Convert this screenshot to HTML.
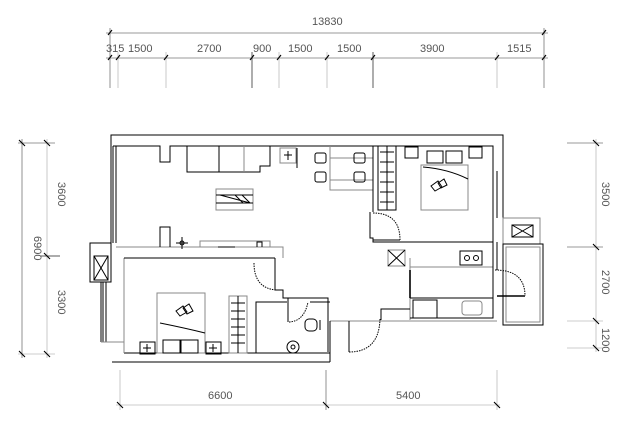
<!DOCTYPE html>
<html><head><style>
html,body{margin:0;padding:0;background:#fff;}
svg{display:block;}
text{font-family:"Liberation Sans",sans-serif;font-size:11px;fill:#555;}
</style></head><body>
<svg width="640" height="435" viewBox="0 0 640 435" xmlns="http://www.w3.org/2000/svg">
<g stroke="#777" stroke-width="0.8" fill="none">
<line x1="106" y1="33" x2="548" y2="33"/>
<line x1="106" y1="58" x2="548" y2="58"/>
<line x1="110" y1="28" x2="110" y2="88"/>
<line x1="544" y1="28" x2="544" y2="88"/>
<line x1="118" y1="52" x2="118" y2="88" stroke="#bbb"/>
<line x1="166" y1="52" x2="166" y2="88" stroke="#bbb"/>
<line x1="252" y1="52" x2="252" y2="88" stroke="#333"/>
<line x1="279" y1="52" x2="279" y2="88" stroke="#bbb"/>
<line x1="327" y1="52" x2="327" y2="88" stroke="#bbb"/>
<line x1="373" y1="52" x2="373" y2="88" stroke="#333"/>
<line x1="497" y1="52" x2="497" y2="88" stroke="#bbb"/>
<line x1="22" y1="139" x2="22" y2="358"/>
<line x1="47" y1="139" x2="47" y2="358" stroke="#bbb"/>
<line x1="18" y1="143" x2="55" y2="143"/>
<line x1="18" y1="354" x2="55" y2="354" stroke="#bbb"/>
<line x1="40" y1="256" x2="60" y2="256" stroke="#222"/>
<line x1="596" y1="139" x2="596" y2="352" stroke="#bbb"/>
<line x1="567" y1="143" x2="603" y2="143"/>
<line x1="567" y1="247" x2="603" y2="247"/>
<line x1="567" y1="321" x2="603" y2="321" stroke="#bbb"/>
<line x1="567" y1="348" x2="603" y2="348" stroke="#bbb"/>
<line x1="116" y1="405" x2="500" y2="405" stroke="#bbb"/>
<line x1="120" y1="370" x2="120" y2="410" stroke="#bbb"/>
<line x1="326" y1="370" x2="326" y2="410"/>
<line x1="497" y1="370" x2="497" y2="410" stroke="#bbb"/>
</g>
<g stroke="#000" stroke-width="1.1">
<path d="M108 35l4-5M108 60l4-5M116 60l4-5M164 60l4-5M250 60l4-5M277 60l4-5M325 60l4-5M371 60l4-5M495 60l4-5M542 60l4-5M542 35l4-5"/>
<path d="M19 140l6 6M44 140l6 6M19 351l6 6M44 351l6 6M44 253l6 6"/>
<path d="M593 140l6 6M593 244l6 6M593 318l6 6M593 345l6 6"/>
<path d="M117 402l6 6M323 402l6 6M494 402l6 6"/>
</g>
<text x="312" y="25">13830</text>
<text x="106" y="52">315</text>
<text x="128" y="52">1500</text>
<text x="197" y="52">2700</text>
<text x="253" y="52">900</text>
<text x="288" y="52">1500</text>
<text x="337" y="52">1500</text>
<text x="420" y="52">3900</text>
<text x="507" y="52">1515</text>
<text transform="translate(34,236) rotate(90)">6900</text>
<text transform="translate(58,182) rotate(90)">3600</text>
<text transform="translate(58,290) rotate(90)">3300</text>
<text transform="translate(602,182) rotate(90)">3500</text>
<text transform="translate(602,270) rotate(90)">2700</text>
<text transform="translate(602,328) rotate(90)">1200</text>
<text x="208" y="399">6600</text>
<text x="396" y="399">5400</text>

<g stroke="#000" stroke-width="1" fill="none">
<path d="M111 243V135H503V218"/>
<path d="M113 146H160V162H170V146H493V171"/>
<line x1="113" y1="146" x2="113" y2="243"/><line x1="116" y1="146" x2="116" y2="243"/>
<line x1="112" y1="362" x2="330" y2="362"/>
<line x1="124" y1="353" x2="330" y2="353"/>
<line x1="124" y1="258" x2="124" y2="353" stroke="#888"/>
<path d="M116 247H283V258" stroke="#888"/>
<line x1="124" y1="258" x2="275" y2="258"/>
<rect x="90" y="243" width="21" height="39"/>
<path d="M94 256l14 24M108 256l-14 24"/><rect x="94" y="256" width="14" height="24"/>
<line x1="101" y1="282" x2="101" y2="342"/><line x1="103" y1="282" x2="103" y2="342"/><line x1="106" y1="282" x2="106" y2="342"/>
<line x1="101" y1="342" x2="124" y2="342" stroke="#888"/>
<path d="M187 146V172H260V166H270V146"/>
<line x1="219" y1="146" x2="219" y2="172"/><line x1="244" y1="146" x2="244" y2="172" stroke="#888"/>
<rect x="280" y="148" width="16" height="15" stroke="#888"/><path d="M288 151v9M284 155h8"/>
<line x1="297" y1="148" x2="297" y2="168"/>
<rect x="216" y="189" width="37" height="21" stroke="#888"/>
<line x1="216" y1="195" x2="253" y2="195"/><line x1="216" y1="203" x2="253" y2="203"/>
<path d="M220 195l30 8M235 195l8 8M242 195l8 8"/>
<path d="M160 247V227H170V247"/>
<path d="M176 243h12M182 237v12" /><circle cx="182" cy="243" r="2"/>
<path d="M200 247V241H270V247" stroke="#888"/>
<path d="M218 247h17M257 247v-5h5v5"/>
<rect x="315" y="153" width="11" height="10" rx="2"/><rect x="315" y="172" width="11" height="10" rx="2"/>
<path d="M330 146V190H373M330 158H373M330 180H373" stroke="#888"/>
<rect x="354" y="153" width="11" height="10" rx="2"/><rect x="354" y="172" width="11" height="10" rx="2"/>
<path d="M373 146V212M370 212V238H373V242H493V171"/>
<rect x="378" y="146" width="18" height="64"/>
<path d="M387 146v64M380 152h14M380 162h14M380 172h14M380 182h14M380 192h14M380 202h14"/>
<rect x="421" y="165" width="47" height="45" stroke="#888"/>
<path d="M423 167q25 2 45 12" /><path d="M431 186l7-5 4 6-7 4zM438 183l6-4 3 6-6 3z"/>
<rect x="405" y="147" width="13" height="11"/><rect x="469" y="147" width="13" height="11"/>
<rect x="427" y="151" width="16" height="12"/><rect x="446" y="151" width="16" height="12"/>
<path d="M373 213q27 0 27 27" stroke-dasharray="1.5 1"/>
<line x1="373" y1="240" x2="400" y2="240"/>
<line x1="493" y1="171" x2="493" y2="218"/><line x1="497" y1="171" x2="497" y2="218"/>
<rect x="503" y="218" width="37" height="26" stroke="#888"/>
<rect x="512" y="225" width="21" height="12"/><path d="M512 225l21 12M533 225l-21 12"/>
<rect x="503" y="244" width="40" height="81"/><rect x="506" y="247" width="34" height="75" stroke="#888"/>
<rect x="388" y="250" width="17" height="16" stroke="#888"/><path d="M388 250l17 16M405 250l-17 16"/>
<line x1="410" y1="258" x2="410" y2="320" stroke="#888"/>
<line x1="410" y1="270" x2="410" y2="298" stroke-width="1.6"/>
<rect x="460" y="251" width="22" height="14"/><circle cx="467" cy="258" r="2.5"/><circle cx="476" cy="258" r="2.5"/>
<line x1="410" y1="267" x2="493" y2="267" stroke="#888"/>
<line x1="493" y1="242" x2="493" y2="298"/><line x1="497" y1="242" x2="497" y2="270"/>
<path d="M495 270q30 0 30 26" stroke-dasharray="1.5 1"/>
<line x1="497" y1="296" x2="525" y2="296" stroke-width="1.5"/>
<line x1="410" y1="298" x2="493" y2="298"/>
<rect x="413" y="300" width="24" height="18"/>
<rect x="462" y="301" width="20" height="14" stroke="#888" rx="3"/>
<path d="M410 318H493V298"/>
<path d="M381 320V309H410" />
<line x1="330" y1="321" x2="497" y2="321" stroke="#888"/>
<line x1="349" y1="321" x2="349" y2="352"/>
<path d="M349 352q30 0 31-33" stroke-dasharray="1.5 1"/>
<line x1="330" y1="321" x2="330" y2="362"/>
<rect x="157" y="293" width="48" height="60" stroke="#888"/>
<path d="M160 323q25 5 45 10"/>
<path d="M176 311l7-5 4 6-7 4zM183 308l6-4 4 7-6 3z"/>
<rect x="163" y="340" width="17" height="13"/><rect x="181" y="340" width="17" height="13"/>
<rect x="140" y="342" width="15" height="12"/><path d="M147 344v8M143 348h8"/>
<rect x="206" y="342" width="15" height="12"/><path d="M213 344v8M209 348h8"/>
<rect x="229" y="296" width="18" height="57" stroke="#888"/>
<path d="M238 296v57M231 303h14M231 311h14M231 319h14M231 327h14M231 335h14M231 343h14"/>
<path d="M254 263q0 25 22 27" stroke-dasharray="1.5 1"/>
<path d="M275 258V290H283V298H328V352"/>
<path d="M256 353V302H287"/>
<path d="M288 298V322q16 0 20-20" stroke-dasharray="1.5 1"/>
<line x1="288" y1="298" x2="288" y2="322"/>
<path d="M310 302H330"/>
<rect x="305" y="319" width="12" height="12" rx="4"/><path d="M320 320v10"/>
<circle cx="293" cy="347" r="6"/><circle cx="293" cy="347" r="2"/>
</g>
</svg>
</body></html>
